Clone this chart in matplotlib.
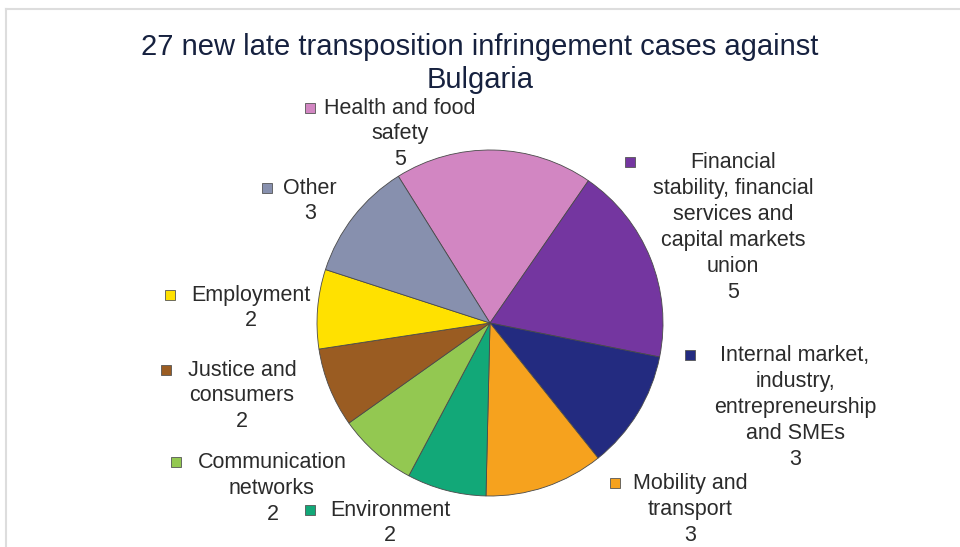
import matplotlib.pyplot as plt
from matplotlib.patches import Rectangle

categories = ["Health and food safety",
              "Financial stability, financial services and capital markets union",
              "Internal market, industry, entrepreneurship and SMEs",
              "Mobility and transport",
              "Environment",
              "Communication networks",
              "Justice and consumers",
              "Employment",
              "Other"]
values = [5, 5, 3, 3, 2, 2, 2, 2, 3]
label_lines = [["Health and food", "safety"],
               ["Financial", "stability, financial", "services and", "capital markets", "union"],
               ["Internal market,", "industry,", "entrepreneurship", "and SMEs"],
               ["Mobility and", "transport"],
               ["Environment"],
               ["Communication", "networks"],
               ["Justice and", "consumers"],
               ["Employment"],
               ["Other"]]
colors = ["#D286C2", "#7436A0", "#232B80", "#F6A21E", "#12A878",
          "#93C851", "#9A5C22", "#FFE100", "#8790AE"]

W, H = 960, 547


def fx(x):
    return x / W


def fy(y):
    return 1 - y / H


def main():
    plt.rcParams["font.family"] = ["Liberation Sans", "DejaVu Sans"]
    fig = plt.figure(figsize=(9.6, 5.47), dpi=100)

    # pie centred at (490, 323) px, radius 173 px
    ax = fig.add_axes([fx(317), fy(496), 346 / W, 346 / H])
    ax.pie(values, colors=colors, startangle=122, counterclock=False,
           wedgeprops=dict(edgecolor="#4a4a4a", linewidth=0.6))
    ax.set_xlim(-1, 1)
    ax.set_ylim(-1, 1)
    ax.set_aspect("equal")

    fig.text(0.5, fy(47), "27 new late transposition infringement cases against",
             ha="center", va="center", fontsize=21, color="#16213F")
    fig.text(0.5, fy(80), "Bulgaria", ha="center", va="center",
             fontsize=21, color="#16213F")

    # label layout: (marker x, marker y, text centre x, first line y, value x)
    layout = [(310, 108, 400, 108, 400),
              (630, 162, 733, 163, 733),
              (690, 355, 795, 356, 795),
              (615, 483, 690, 484, 690),
              (310, 510, 390, 510, 390),
              (176, 462, 272, 463, 273),
              (166, 370, 242, 370, 242),
              (170, 295, 251, 295, 251),
              (267, 188, 310, 188, 310)]
    step = 25.8
    for lines, val, col, (mx, my, tx, ty, vx) in zip(label_lines, values, colors, layout):
        fig.add_artist(Rectangle((fx(mx - 5), fy(my + 5)), 10 / W, 10 / H,
                                 transform=fig.transFigure, facecolor=col,
                                 edgecolor="#555555", linewidth=0.6))
        for i, line in enumerate(lines):
            fig.text(fx(tx), fy(ty + i * step), line, ha="center", va="center",
                     fontsize=15.5, color="#2b2b2b")
        fig.text(fx(vx), fy(ty + len(lines) * step), str(val), ha="center",
                 va="center", fontsize=15.5, color="#2b2b2b")

    # frame lines on top and left
    fig.add_artist(plt.Line2D([fx(6), 1], [fy(9), fy(9)], color="#dddddd", linewidth=1.5))
    fig.add_artist(plt.Line2D([fx(6), fx(6)], [fy(9), 0], color="#dddddd", linewidth=1.5))

    fig.savefig("out.png", dpi=100)


if __name__ == "__main__":
    main()
